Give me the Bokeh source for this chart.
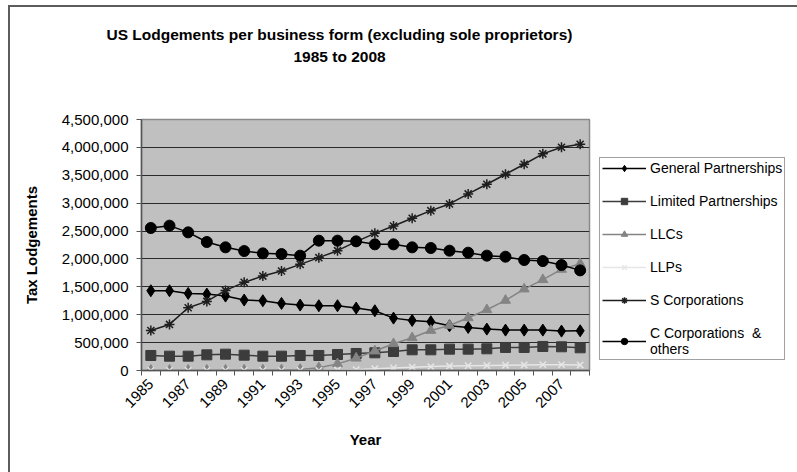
from bokeh.plotting import figure
from bokeh.models import (Range1d, FixedTicker, NumeralTickFormatter, Legend, LegendItem,
                          Title, LinearAxis, ColumnDataSource)
from bokeh.embed import file_html
from bokeh.resources import INLINE
import math

years = list(range(1985, 2009))
general_partnerships = [1430000, 1430000, 1382000, 1370000, 1334000, 1263000, 1251000, 1203000,
                        1173000, 1161000, 1161000, 1119000, 1071000, 939000, 898000, 874000,
                        802000, 772000, 742000, 724000, 724000, 724000, 706000, 712000]
limited_partnerships = [269000, 257000, 257000, 281000, 293000, 275000, 257000, 257000,
                        269000, 269000, 287000, 305000, 317000, 341000, 371000, 371000,
                        383000, 383000, 389000, 413000, 413000, 431000, 425000, 407000]
llcs = [2000, 3000, 4000, 5000, 6000, 7000, 8000, 9000,
        17000, 49000, 119000, 221000, 349000, 480000, 586000, 718000,
        808000, 945000, 1089000, 1257000, 1460000, 1628000, 1813000, 1915000]
llps = [0, 0, 0, 0, 0, 0, 0, 0,
        0, 2000, 8000, 15000, 30000, 45000, 60000, 70000,
        80000, 85000, 90000, 95000, 100000, 105000, 105000, 100000]
s_corporations = [718000, 826000, 1125000, 1239000, 1436000, 1580000, 1693000, 1783000,
                  1903000, 2023000, 2148000, 2310000, 2459000, 2591000, 2729000, 2866000,
                  2986000, 3166000, 3339000, 3519000, 3698000, 3884000, 4003000, 4057000]
c_corporations = [2555000, 2597000, 2477000, 2304000, 2208000, 2142000, 2100000, 2088000,
                  2059000, 2328000, 2328000, 2316000, 2262000, 2262000, 2208000, 2196000,
                  2148000, 2112000, 2059000, 2040000, 1981000, 1962000, 1891000, 1795000]

series_names = ["General Partnerships", "Limited Partnerships", "LLCs", "LLPs",
                "S Corporations", "C Corporations  &\nothers"]
title_line1 = "US Lodgements per business form (excluding sole proprietors)"
title_line2 = "1985 to 2008"
odd_years = [y for y in years if y % 2 == 1]
y_ticks = list(range(0, 4500001, 500000))

src = ColumnDataSource(dict(year=years, gp=general_partnerships, lp=limited_partnerships,
                            llc=llcs, llp=llps, s=s_corporations, c=c_corporations))

p = figure(frame_width=448, frame_height=251, output_backend="svg", toolbar_location=None,
           x_range=Range1d(1984.5, 2008.5), y_range=Range1d(0, 4500000),
           min_border_left=141, min_border_right=208, min_border_top=119, min_border_bottom=102)
# chart-area border (left and top edges) painted behind a transparent canvas border
p.styles = {"background": "linear-gradient(#5c5c5c, #5c5c5c) 8px 5px / 2px 467px no-repeat, "
                          "linear-gradient(#5c5c5c, #5c5c5c) 8px 5px / 789px 2px no-repeat, #ffffff"}
p.title = None
p.background_fill_color = "#c0c0c0"
p.border_fill_color = "white"
p.border_fill_alpha = 0
p.outline_line_color = "#8a8a8a"
p.outline_line_width = 1.5

font = "Liberation Sans"
xax = p.below[0]
yax = p.left[0]

p.xgrid.visible = False
p.ygrid.ticker = FixedTicker(ticks=y_ticks)
p.ygrid.grid_line_color = "#2a2a2a"
p.ygrid.grid_line_width = 1

yax.ticker = FixedTicker(ticks=y_ticks)
yax.formatter = NumeralTickFormatter(format="0,0")
yax.axis_label = "Tax Lodgements"
xax.ticker = FixedTicker(ticks=odd_years, minor_ticks=[y - 0.5 for y in years] + [2008.5])
xax.major_label_orientation = math.pi / 4
xax.axis_label = "Year"
xax.major_tick_out = 0
xax.major_tick_in = 0
xax.minor_tick_out = 5
xax.minor_tick_in = 0
yax.major_tick_out = 5
yax.major_tick_in = 0
yax.minor_tick_out = 0
yax.minor_tick_in = 0
for ax in (xax, yax):
    ax.axis_line_color = "#555555"
    ax.axis_line_width = 1.5
    ax.major_tick_line_color = "#555555"
    ax.minor_tick_line_color = "#555555"
    ax.major_label_text_font = font
    ax.major_label_text_font_size = "15px"
    ax.major_label_text_color = "black"
    ax.axis_label_text_font = font
    ax.axis_label_text_font_size = "15px"
    ax.axis_label_text_font_style = "bold"
    ax.axis_label_text_color = "black"
yax.major_label_standoff = 8
xax.major_label_standoff = 6
xax.axis_label_standoff = 16
yax.axis_label_standoff = 19

# invisible spacer between the frame and the two title lines
spacer = LinearAxis(ticker=FixedTicker(ticks=[]), axis_line_color=None,
                    major_tick_line_color=None, minor_tick_line_color=None,
                    major_tick_out=0, major_tick_in=0, minor_tick_out=0, minor_tick_in=0,
                    major_label_standoff=0, axis_label=" ", axis_label_standoff=34,
                    axis_label_text_font_size="15px", axis_label_text_alpha=0)
p.add_layout(spacer, "above")
t2 = Title(text=title_line2, align="left", offset=152, standoff=2,
           text_font=font, text_font_size="15.5px", text_font_style="bold", text_color="black")
t1 = Title(text=title_line1, align="left", offset=-35, standoff=4,
           text_font=font, text_font_size="15.5px", text_font_style="bold", text_color="black")
p.add_layout(t2, "above")
p.add_layout(t1, "above")

items = []
specs = [
    ("gp", "black", "diamond", 12, "black", 1.5),
    ("lp", "#3c3c3c", "square", 10, "#3c3c3c", 1.5),
    ("llc", "#848484", "triangle", 10, "#848484", 1.5),
    ("llp", "#e6e6e6", "x", 9, "#e6e6e6", 1.5),
    ("s", "#1e1e1e", "asterisk", 10, "#1e1e1e", 1.5),
    ("c", "black", "circle", 11, "black", 1.5),
]
for (col, lc, marker, size, mc, lw), name in zip(specs, series_names):
    lr = p.line("year", col, source=src, line_color=lc, line_width=lw)
    sr = p.scatter("year", col, source=src, marker=marker, size=size,
                   fill_color=mc, line_color=mc, line_width=1.5 if marker in ("x", "asterisk") else 1)
    items.append(LegendItem(label=name, renderers=[lr, sr]))

legend = Legend(items=items, location="bottom_left")
legend.label_text_font = font
legend.label_text_font_size = "14px"
legend.label_text_color = "black"
legend.border_line_color = "#444444"
legend.border_line_width = 1
legend.background_fill_color = "white"
legend.background_fill_alpha = 1
legend.glyph_width = 44
legend.glyph_height = 16
legend.label_height = 16
legend.label_standoff = 4
legend.spacing = 17
legend.padding = 2
legend.margin = 10
p.add_layout(legend, "right")

open("out.html", "w").write(file_html(p, INLINE))
